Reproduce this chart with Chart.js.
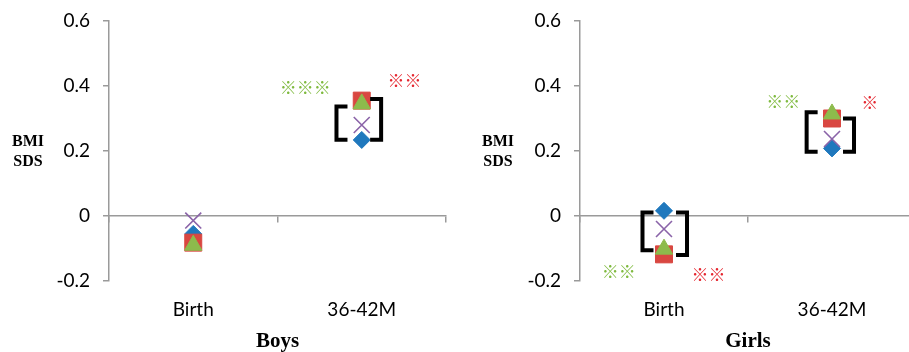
<!DOCTYPE html>
<html>
<head>
<meta charset="utf-8">
<script src="https://cdn.jsdelivr.net/npm/chart.js@4.4.1/dist/chart.umd.min.js"></script>
<style>
  html, body { margin: 0; padding: 0; background: #fff; overflow: hidden; width: 909px; height: 352px; }
  .box { position: absolute; top: 0; height: 352px; }
</style>
</head>
<body>
<div class="box" style="left:0;width:459px"><canvas id="boys" width="459" height="352"></canvas></div>
<div class="box" style="left:459px;width:470px"><canvas id="girls" width="470" height="352"></canvas></div>
<script>
// ---------- data ----------
const categories = ['Birth', '36-42M'];
const yMin = -0.2, yMax = 0.6, yStep = 0.2;

const boysDiamond  = [-0.055, 0.234];
const boysSquare   = [-0.082, 0.355];
const boysTriangle = [-0.090, 0.345];
const boysCross    = [-0.014, 0.280];

const girlsDiamond  = [0.016, 0.208];
const girlsSquare   = [-0.118, 0.300];
const girlsTriangle = [-0.102, 0.314];
const girlsCross    = [-0.040, 0.237];

// brackets: x in category units, top/bottom in BMI SDS
const boysBrackets = [
  { x: 0.850, side: 'left',  top: 0.337, bottom: 0.235 },
  { x: 1.115, side: 'right', top: 0.360, bottom: 0.235 }
];
const girlsBrackets = [
  { x: -0.128, side: 'left',  top: 0.011, bottom: -0.105 },
  { x: 0.137,  side: 'right', top: 0.011, bottom: -0.120 },
  { x: 0.849,  side: 'left',  top: 0.319, bottom: 0.198 },
  { x: 1.131,  side: 'right', top: 0.300, bottom: 0.198 }
];

// significance marks
const boysMarks = [
  { text: '※※※', x: 0.665, y: 0.394, kind: 'green' },
  { text: '※※',   x: 1.253, y: 0.418, kind: 'red' }
];
const girlsMarks = [
  { text: '※※', x: -0.270, y: -0.172, kind: 'green' },
  { text: '※※', x: 0.265,  y: -0.180, kind: 'red' },
  { text: '※※', x: 0.710,  y: 0.351,  kind: 'green' },
  { text: '※',   x: 1.224,  y: 0.348,  kind: 'red' }
];

// ---------- styles ----------
const COLORS = { diamond: '#1F78BD', square: '#D94741', triangle: '#8DBB4C', cross: '#8A63A8',
                 green: '#7FBA3F', red: '#E5262F', axis: '#9A9A9A' };
const tickFont = { family: 'Lato', size: 19 };

const annotate = {
  id: 'annotate',
  afterDatasetsDraw(chart, args, opts) {
    const ctx = chart.ctx, xs = chart.scales.x, ys = chart.scales.y;
    ctx.save();
    // brackets
    ctx.strokeStyle = '#000';
    ctx.lineWidth = 4;
    ctx.lineJoin = 'miter';
    ctx.lineCap = 'butt';
    const arm = 11;
    for (const b of opts.brackets) {
      const px = xs.getPixelForValue(b.x);
      const t = ys.getPixelForValue(b.top), btm = ys.getPixelForValue(b.bottom);
      const dir = b.side === 'left' ? 1 : -1;
      ctx.beginPath();
      ctx.moveTo(px + dir * arm, t);
      ctx.lineTo(px, t);
      ctx.lineTo(px, btm);
      ctx.lineTo(px + dir * arm, btm);
      ctx.stroke();
    }
    // marks
    ctx.font = 'bold 17px "Noto Sans CJK JP"';
    ctx.textAlign = 'center';
    ctx.textBaseline = 'middle';
    for (const m of opts.marks) {
      ctx.fillStyle = COLORS[m.kind];
      ctx.fillText(m.text, xs.getPixelForValue(m.x), ys.getPixelForValue(m.y));
    }
    // y-axis label
    const ca = chart.chartArea, cy = (ca.top + ca.bottom) / 2;
    ctx.fillStyle = '#000';
    ctx.font = 'bold 16px "Liberation Serif"';
    ctx.fillText('BMI', opts.labelX, cy - 9.5);
    ctx.fillText('SDS', opts.labelX, cy + 11);
    ctx.restore();
  }
};

function makeChart(id, title, d, s, t, c, brackets, marks, axisWidth, labelX) {
  const ds = (label, data, style, radius, color, order, extra) => Object.assign({
    label, data, showLine: false, pointStyle: style, pointRadius: radius,
    pointBackgroundColor: color, pointBorderColor: color, pointBorderWidth: 1, order
  }, extra || {});
  return new Chart(document.getElementById(id), {
    type: 'line',
    data: {
      labels: categories,
      datasets: [
        ds('Diamond', d, 'rectRot', 8.5, COLORS.diamond, 4),
        ds('Square', s, 'rect', 12, COLORS.square, 3),
        ds('Triangle', t, 'triangle', 10, COLORS.triangle, 2),
        ds('Cross', c, 'crossRot', 11.3, COLORS.cross, 1, { pointBorderWidth: 1.6 })
      ]
    },
    options: {
      responsive: false,
      animation: false,
      events: [],
      layout: { padding: { top: 21, right: 10, bottom: 0, left: 0 } },
      plugins: {
        legend: { display: false },
        tooltip: { enabled: false },
        annotate: { brackets, marks, labelX }
      },
      scales: {
        x: {
          type: 'category', offset: true, position: 'bottom',
          grid: { display: false, drawTicks: false },
          border: { display: false },
          ticks: { font: tickFont, color: '#000', padding: 17 },
          title: { display: true, text: title, color: '#000',
                   font: { family: 'Liberation Serif', size: 21, weight: 'bold', lineHeight: 1 },
                   padding: { top: 0, bottom: 0 } },
          afterFit(scale) { scale.height = 71; }
        },
        x2: {
          type: 'category', axis: 'x', labels: categories, offset: true, position: { y: 0 },
          grid: { offset: true, drawOnChartArea: false, drawTicks: true, tickLength: 6,
                  color: COLORS.axis, lineWidth: 1.5 },
          border: { color: COLORS.axis, width: 1.5 },
          ticks: { display: false }
        },
        y: {
          min: yMin, max: yMax,
          grid: { drawOnChartArea: false, drawTicks: true, tickLength: 6, color: COLORS.axis, lineWidth: 1.5 },
          border: { color: COLORS.axis, width: 1.5 },
          ticks: { stepSize: yStep, font: tickFont, color: '#000', padding: 13,
                   callback: v => String(+(+v).toFixed(1)) },
          afterFit(scale) { scale.width = axisWidth; scale.paddingTop = 0; scale.paddingBottom = 0; }
        }
      }
    },
    plugins: [annotate]
  });
}

makeChart('boys', 'Boys', boysDiamond, boysSquare, boysTriangle, boysCross, boysBrackets, boysMarks, 109, 28);
makeChart('girls', 'Girls', girlsDiamond, girlsSquare, girlsTriangle, girlsCross, girlsBrackets, girlsMarks, 121, 39);
</script>
</body>
</html>
